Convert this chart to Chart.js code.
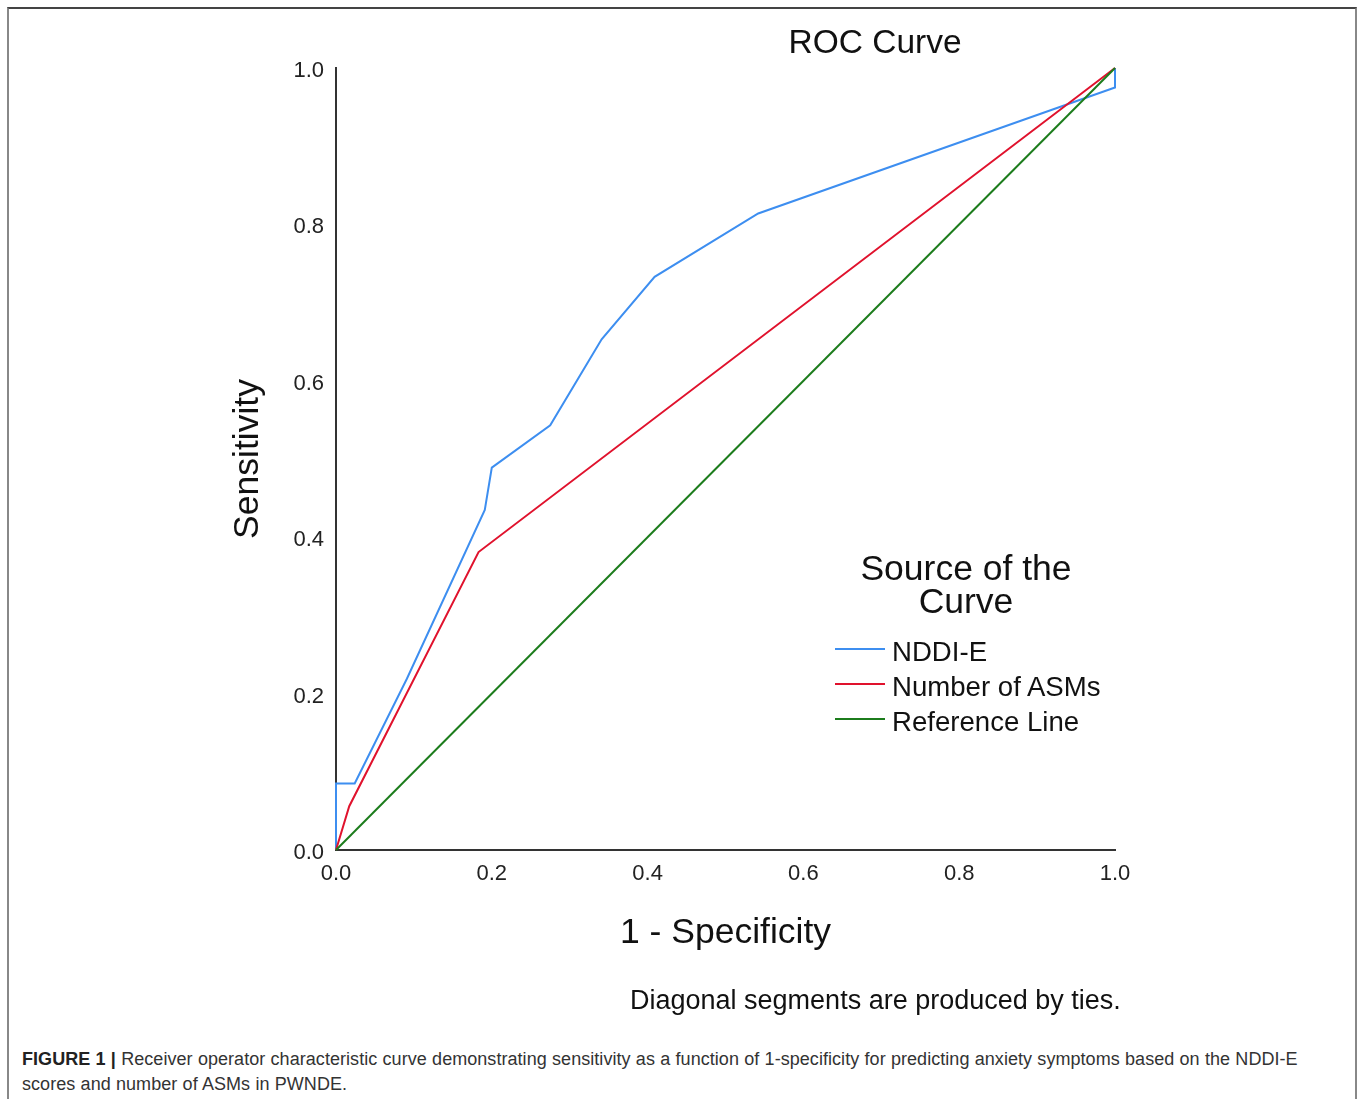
<!DOCTYPE html>
<html>
<head>
<meta charset="utf-8">
<script src="https://cdn.jsdelivr.net/npm/chart.js@4.4.1/dist/chart.umd.min.js"></script>
<style>
  html, body { margin: 0; padding: 0; background: #fff; }
  body { width: 1357px; height: 1099px; position: relative; overflow: hidden; font-family: "Liberation Sans", Arial, sans-serif; }
  #frame { position: absolute; left: 7px; top: 7px; width: 1350px; height: 1200px; border-top: 2px solid #444; border-left: 2px solid #888; border-right: 2px solid #888; box-sizing: border-box; }
  #wrap { position: absolute; left: 0; top: 0; width: 1357px; height: 1040px; }
  #title { position: absolute; left: 875px; top: 42px; transform: translate(-50%, -50%); font-size: 33.5px; color: #111; white-space: nowrap; }
  #legend { position: absolute; left: 0; top: 0; }
  .lgTitle { position: absolute; left: 966px; transform: translate(-50%, -50%); font-size: 35.5px; color: #111; white-space: nowrap; }
  .lgItem { position: absolute; left: 835px; height: 0; }
  .lgLine { position: absolute; left: 0; top: -4px; width: 50px; height: 2px; }
  .lgText { position: absolute; left: 57px; top: 0; transform: translateY(-50%); font-size: 27.6px; color: #111; white-space: nowrap; }
  #note { position: absolute; left: 630px; top: 1000px; transform: translateY(-50%); font-size: 27px; color: #111; white-space: nowrap; }
  #caption { position: absolute; left: 22px; top: 1047px; font-size: 18px; letter-spacing: 0.05px; word-spacing: 0.2px; line-height: 25px; color: #333; white-space: nowrap; }
  #caption b { color: #222; }
</style>
</head>
<body>
<div id="frame"></div>
<div id="wrap"><canvas id="c" width="1357" height="1040"></canvas></div>
<div id="title">ROC Curve</div>
<div id="legend"></div>
<div id="note">Diagonal segments are produced by ties.</div>
<div id="caption"><b>FIGURE 1 |</b> Receiver operator characteristic curve demonstrating sensitivity as a function of 1-specificity for predicting anxiety symptoms based on the NDDI-E<br>scores and number of ASMs in PWNDE.</div>
<script>
// ---- data ----
const seriesNames = ["NDDI-E", "Number of ASMs", "Reference Line"];
const nddiX = [0, 0, 0.024, 0.091, 0.191, 0.200, 0.275, 0.341, 0.409, 0.542, 1.0, 1.0];
const nddiY = [0, 0.085, 0.085, 0.219, 0.435, 0.489, 0.543, 0.653, 0.733, 0.814, 0.975, 1.0];
const asmX = [0, 0.017, 0.183, 1.0];
const asmY = [0, 0.056, 0.381, 1.0];
const refX = [0, 1.0];
const refY = [0, 1.0];
const tickValues = [0, 0.2, 0.4, 0.6, 0.8, 1.0];
const legendTitle = ["Source of the", "Curve"];

// ---- styles ----
const colors = ["#3d8ef0", "#e0122d", "#1c7c1c"];

function pts(xs, ys) { return xs.map((x, i) => ({ x: x, y: ys[i] })); }

const datasets = [
  { label: seriesNames[0], data: pts(nddiX, nddiY), order: 2 },
  { label: seriesNames[1], data: pts(asmX, asmY), order: 1 },
  { label: seriesNames[2], data: pts(refX, refY), order: 0 }
].map((d, i) => Object.assign(d, {
  borderColor: colors[i], backgroundColor: colors[i], borderWidth: 2,
  showLine: true, pointRadius: 0, pointHoverRadius: 0, tension: 0, fill: false, clip: false
}));

const tickFont = { family: "'Liberation Sans', Arial, sans-serif", size: 22 };
const titleFont = { family: "'Liberation Sans', Arial, sans-serif", size: 35.5 };

new Chart(document.getElementById('c'), {
  type: 'scatter',
  data: { datasets: datasets },
  options: {
    responsive: false,
    animation: false,
    events: [],
    layout: { padding: { left: 200, right: 242, top: 68, bottom: 80 } },
    plugins: { legend: { display: false }, title: { display: false }, tooltip: { enabled: false } },
    scales: {
      x: {
        type: 'linear', min: 0, max: 1,
        grid: { display: false, drawTicks: false, tickLength: 0 },
        border: { display: true, color: '#333', width: 2 },
        afterBuildTicks: s => { s.ticks = tickValues.map(v => ({ value: v })); },
        afterFit: s => { s.height = 110; },
        ticks: { font: tickFont, color: '#222', padding: 11, maxRotation: 0, callback: v => v.toFixed(1) },
        title: { display: true, text: '1 - Specificity', font: titleFont, color: '#111', padding: { top: 0, bottom: 5 } }
      },
      y: {
        type: 'linear', min: 0, max: 1,
        grid: { display: false, drawTicks: false, tickLength: 0 },
        border: { display: true, color: '#333', width: 2 },
        afterBuildTicks: s => { s.ticks = tickValues.map(v => ({ value: v })); },
        afterFit: s => { s.width = 136; },
        ticks: { font: tickFont, color: '#222', padding: 12, labelOffset: 3, callback: v => v.toFixed(1) },
        title: { display: true, text: 'Sensitivity', font: titleFont, color: '#111', padding: { top: 27, bottom: 0 } }
      }
    }
  }
});

// ---- HTML legend built from the dataset names/colors ----
const lg = document.getElementById('legend');
legendTitle.forEach((t, i) => {
  const d = document.createElement('div');
  d.className = 'lgTitle'; d.textContent = t; d.style.top = (568 + i * 33) + 'px';
  lg.appendChild(d);
});
seriesNames.forEach((n, i) => {
  const it = document.createElement('div');
  it.className = 'lgItem'; it.style.top = (652 + i * 35) + 'px';
  const ln = document.createElement('div'); ln.className = 'lgLine'; ln.style.background = colors[i];
  const tx = document.createElement('div'); tx.className = 'lgText'; tx.textContent = n;
  it.appendChild(ln); it.appendChild(tx); lg.appendChild(it);
});
</script>
</body>
</html>
